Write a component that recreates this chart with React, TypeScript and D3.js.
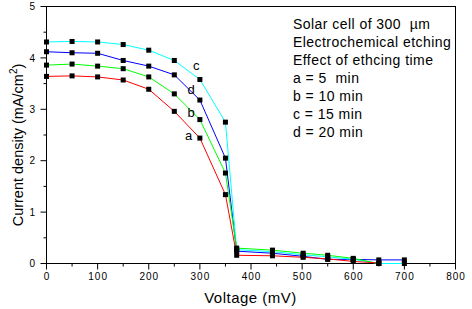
import React from "react";
import * as d3 from "d3";

const voltage = [0, 50, 100, 150, 200, 250, 300, 350, 372, 442, 502, 550, 600, 650, 700];
const seriesA = [3.64, 3.65, 3.63, 3.57, 3.39, 2.96, 2.44, 1.34, 0.16, 0.15, 0.12, 0.09, 0.04, 0.01];
const seriesB = [3.86, 3.88, 3.84, 3.79, 3.63, 3.3, 2.8, 1.76, 0.3, 0.26, 0.2, 0.16, 0.1, 0.0];
const seriesC = [4.31, 4.32, 4.31, 4.26, 4.15, 3.95, 3.58, 2.75, 0.27, 0.23, 0.17, 0.13, 0.08, 0.0, 0.0];
const seriesD = [4.12, 4.1, 4.09, 3.95, 3.84, 3.67, 3.18, 2.05, 0.24, 0.2, 0.14, 0.08, 0.08, 0.07, 0.07];
const seriesNames = ["a", "b", "c", "d"];
const seriesColors = ["#ff0000", "#00ff00", "#00ffff", "#0000ff"];
const labelPos = [
  { v: 278, j: 2.4 },
  { v: 283, j: 2.85 },
  { v: 293, j: 3.77 },
  { v: 283, j: 3.3 },
];
const xTicks = [0, 100, 200, 300, 400, 500, 600, 700, 800];
const yTicks = [0, 1, 2, 3, 4, 5];
const notes = [
  "Solar cell of 300\u00A0\u00A0µm",
  "Electrochemical etching",
  "Effect of ethcing time",
  "a = 5  min",
  "b = 10 min",
  "c = 15 min",
  "d = 20 min",
];

const FONT = "'Liberation Sans', Arial, Helvetica, sans-serif";

export default function App() {
  const W = 472;
  const H = 309;
  const x = d3.scaleLinear().domain([0, 800]).range([46.5, 455.5]);
  const y = d3.scaleLinear().domain([0, 5]).range([263.5, 6.5]);
  const allSeries = [seriesA, seriesB, seriesC, seriesD];
  const line = d3
    .line<[number, number]>()
    .x((d) => x(d[0]))
    .y((d) => y(d[1]));
  const xMinor = d3.range(50, 800, 100);
  const yMinor = d3.range(0.5, 5, 1);
  const drawOrder = [3, 2, 1, 0];

  return (
    <svg
      width={W}
      height={H}
      style={{ position: "absolute", left: 0, top: 0, background: "#fff" }}
      fontFamily={FONT}
    >
      <rect x={0} y={0} width={W} height={H} fill="#fff" />
      {/* frame */}
      <rect
        x={x(0)}
        y={y(5)}
        width={x(800) - x(0)}
        height={y(0) - y(5)}
        fill="none"
        stroke="#000"
        strokeWidth={1}
      />
      {/* x ticks */}
      {xTicks.map((t) => (
        <g key={"xt" + t}>
          <line x1={x(t)} x2={x(t)} y1={y(0)} y2={y(0) + 6} stroke="#000" />
          <text
            x={x(t) + 0.5}
            y={279.5}
            fontSize={10}
            letterSpacing={1}
            textAnchor="middle"
            fill="#000"
          >
            {t}
          </text>
        </g>
      ))}
      {xMinor.map((t) => (
        <line key={"xm" + t} x1={x(t)} x2={x(t)} y1={y(0)} y2={y(0) + 3} stroke="#000" />
      ))}
      {/* y ticks */}
      {yTicks.map((t) => (
        <g key={"yt" + t}>
          <line x1={x(0) - 6} x2={x(0)} y1={y(t)} y2={y(t)} stroke="#000" />
          <text
            x={35}
            y={y(t) + 3.7}
            fontSize={10}
            textAnchor="end"
            fill="#000"
          >
            {t}
          </text>
        </g>
      ))}
      {yMinor.map((t) => (
        <line key={"ym" + t} x1={x(0) - 3} x2={x(0)} y1={y(t)} y2={y(t)} stroke="#000" />
      ))}
      {/* axis titles */}
      <text
        x={250.5}
        y={302.5}
        fontSize={15}
        letterSpacing={0.5}
        textAnchor="middle"
        fill="#000"
      >
        Voltage (mV)
      </text>
      <text
        transform="translate(23,145) rotate(-90)"
        fontSize={14.5}
        textAnchor="middle"
        fill="#000"
      >
        Current density (mA/cm
        <tspan dy={-6} fontSize={10}>
          2
        </tspan>
        <tspan dy={6}>)</tspan>
      </text>
      {/* curves */}
      {drawOrder.map((i) => {
        const s = allSeries[i];
        const pts: [number, number][] = s.map((v, k) => [voltage[k], v]);
        return (
          <path
            key={"c" + i}
            d={line(pts) || ""}
            fill="none"
            stroke={seriesColors[i]}
            strokeWidth={1}
          />
        );
      })}
      {/* markers */}
      {drawOrder.map((i) =>
        allSeries[i].map((v, k) => (
          <rect
            key={"m" + i + "-" + k}
            x={x(voltage[k]) - 2.5}
            y={y(v) - 2.5}
            width={5}
            height={5}
            fill="#000"
          />
        ))
      )}
      {/* curve labels */}
      {seriesNames.map((n, i) => (
        <text
          key={"l" + n}
          x={x(labelPos[i].v)}
          y={y(labelPos[i].j)}
          fontSize={13}
          textAnchor="middle"
          fill="#000"
        >
          {n}
        </text>
      ))}
      {/* annotation */}
      {notes.map((t, i) => (
        <text
          key={"n" + i}
          x={293}
          y={28.5 + i * 18}
          fontSize={14}
          letterSpacing={0.45}
          fill="#000"
          style={{ whiteSpace: "pre" }}
        >
          {t}
        </text>
      ))}
    </svg>
  );
}
